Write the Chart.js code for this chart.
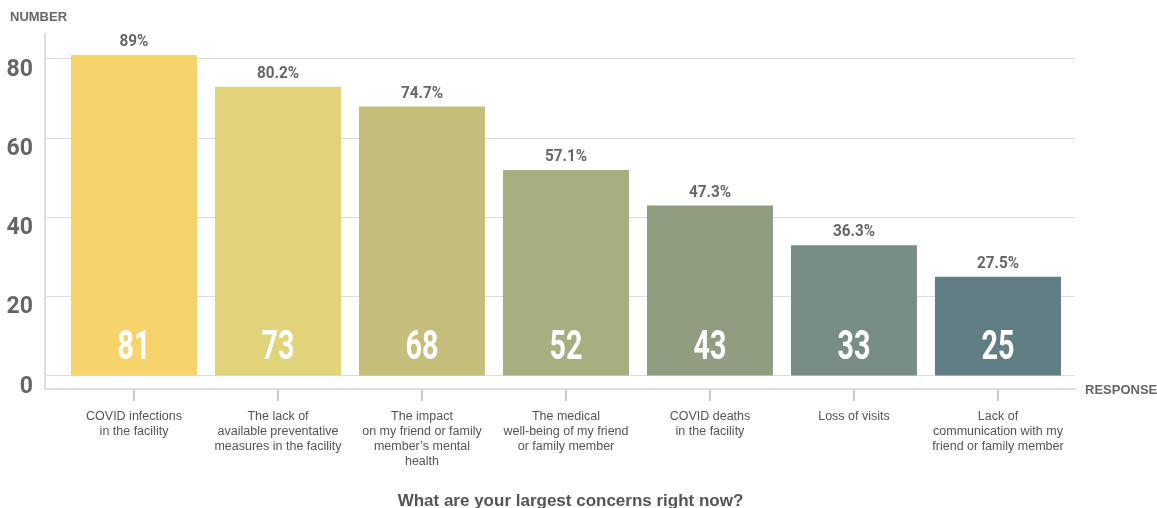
<!DOCTYPE html>
<html lang="en">
<head>
    <meta charset="UTF-8">
    <title>What are your largest concerns right now?</title>
    <script src="https://cdn.jsdelivr.net/npm/chart.js"></script>
    <style>
        html, body {
            margin: 0;
            padding: 0;
            background: #ffffff;
        }

        .chart-box {
            position: relative;
            width: 1157px;
            height: 508px;
        }
    </style>
</head>
<body>

<div class="chart-box">
    <canvas id="grafico"></canvas>
</div>

<script>
    // Datos del gráfico
    const categories = [
        ['COVID infections', 'in the facility'],
        ['The lack of', 'available preventative', 'measures in the facility'],
        ['The impact', 'on my friend or family', 'member\u2019s mental', 'health'],
        ['The medical', 'well-being of my friend', 'or family member'],
        ['COVID deaths', 'in the facility'],
        ['Loss of visits'],
        ['Lack of', 'communication with my', 'friend or family member']
    ];
    const counts = [81, 73, 68, 52, 43, 33, 25];
    const percents = ['89%', '80.2%', '74.7%', '57.1%', '47.3%', '36.3%', '27.5%'];
    const yTicks = [0, 20, 40, 60, 80];
    const barColors = ['#f7d46b', '#e0d379', '#c5be7b', '#a9ae81', '#909d81', '#788d83', '#607e83'];
    const pregunta = 'What are your largest concerns right now?';

    const bold = "Roboto, 'Liberation Sans', sans-serif";
    const plain = "'Liberation Sans', Arial, sans-serif";

    // Texto comprimido en horizontal (la fuente original es condensada)
    function textoEstrecho(ctx, txt, x, y, escala) {
        ctx.save();
        ctx.translate(x, y);
        ctx.scale(escala, 1);
        ctx.fillText(txt, 0, 0);
        ctx.restore();
    }

    // Etiquetas sobre y dentro de las barras, títulos de ejes y pregunta
    const etiquetas = {
        id: 'etiquetas',
        afterDatasetsDraw(chart) {
            const ctx = chart.ctx;
            const area = chart.chartArea;
            const bars = chart.getDatasetMeta(0).data;
            ctx.save();
            ctx.textAlign = 'center';
            bars.forEach((bar, i) => {
                ctx.fillStyle = '#666666';
                ctx.font = 'bold 17px ' + bold;
                ctx.textBaseline = 'alphabetic';
                textoEstrecho(ctx, percents[i], bar.x, bar.y - 9, 0.9);

                ctx.fillStyle = '#ffffff';
                ctx.font = 'bold 41px ' + bold;
                textoEstrecho(ctx, String(counts[i]), bar.x, bar.base - 16, 0.7);
            });

            ctx.fillStyle = '#666666';
            ctx.font = 'bold 13px ' + plain;
            ctx.textBaseline = 'middle';
            ctx.textAlign = 'left';
            ctx.fillText('NUMBER', 10, 17);
            ctx.fillText('RESPONSE', area.right + 10, area.bottom + 1);

            ctx.fillStyle = '#555555';
            ctx.font = 'bold 17px ' + plain;
            ctx.textAlign = 'center';
            ctx.fillText(pregunta, chart.width / 2 - 8, chart.height - 7);
            ctx.restore();
        }
    };

    new Chart(document.getElementById('grafico'), {
        type: 'bar',
        data: {
            datasets: [{
                data: counts.map((v, i) => ({ x: i, y: v })),
                backgroundColor: barColors,
                categoryPercentage: 1,
                barPercentage: 0.875
            }]
        },
        options: {
            responsive: true,
            maintainAspectRatio: false,
            animation: false,
            layout: {
                padding: { top: 34, left: 0, right: 82, bottom: 31 }
            },
            plugins: {
                legend: { display: false },
                tooltip: { enabled: false }
            },
            scales: {
                x: {
                    type: 'linear',
                    offset: false,
                    min: -0.618,
                    max: 6.535,
                    afterBuildTicks: s => { s.ticks = categories.map((_, i) => ({ value: i })); },
                    grid: {
                        offset: false,
                        drawOnChartArea: false,
                        drawTicks: true,
                        tickLength: 12,
                        color: '#cccccc',
                        lineWidth: 2
                    },
                    border: { color: '#dddddd', width: 2 },
                    ticks: {
                        autoSkip: false,
                        maxRotation: 0,
                        padding: 8,
                        color: '#555555',
                        font: { family: plain, size: 12.5, lineHeight: 1.2 },
                        callback: v => categories[v]
                    }
                },
                y: {
                    min: -3.3,
                    max: 86.3,
                    afterBuildTicks: s => { s.ticks = yTicks.map(v => ({ value: v })); },
                    afterFit: s => { s.width = 45; },
                    grid: {
                        drawTicks: false,
                        color: '#dddddd',
                        lineWidth: 1
                    },
                    border: { color: '#dddddd', width: 2 },
                    ticks: {
                        padding: 12,
                        labelOffset: 11,
                        color: '#666666',
                        font: { family: bold, size: 23, weight: 'bold' }
                    }
                }
            }
        },
        plugins: [etiquetas]
    });
</script>

</body>
</html>
